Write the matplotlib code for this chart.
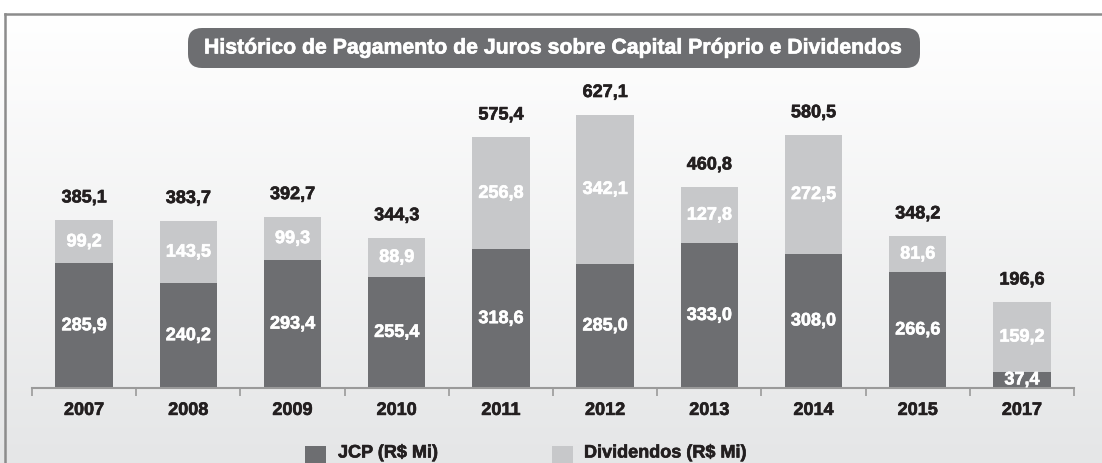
import numpy as np
import matplotlib.pyplot as plt
import matplotlib.patheffects as pe
from matplotlib.patches import Rectangle, FancyBboxPatch

# data
years = ['2007', '2008', '2009', '2010', '2011', '2012', '2013', '2014', '2015', '2017']
jcp = [285.9, 240.2, 293.4, 255.4, 318.6, 285.0, 333.0, 308.0, 266.6, 37.4]
dividendos = [99.2, 143.5, 99.3, 88.9, 256.8, 342.1, 127.8, 272.5, 81.6, 159.2]
totais = [385.1, 383.7, 392.7, 344.3, 575.4, 627.1, 460.8, 580.5, 348.2, 196.6]

titulo = 'Histórico de Pagamento de Juros sobre Capital Próprio e Dividendos'
leg_jcp = 'JCP (R$ Mi)'
leg_div = 'Dividendos (R$ Mi)'

DARK = '#6d6e71'
LIGHT = '#c7c8ca'
TXT = '#231f20'

plt.rcParams['font.family'] = ['Liberation Sans', 'DejaVu Sans']
plt.rcParams['font.weight'] = 'bold'

def heavy(c):
    # fake a heavier weight than the bold face
    return [pe.withStroke(linewidth=0.45, foreground=c)]

W, H = 1102, 463
fig = plt.figure(figsize=(W / 100, H / 100), dpi=100)

# background gradient + frame (pixel coords)
bg = fig.add_axes([0, 0, 1, 1], zorder=0)
grad = np.linspace(1.0, 0.0, 256).reshape(-1, 1)
top = np.array([1.0, 1.0, 1.0])
bot = np.array([0.898, 0.902, 0.906])
img = (bot + (top - bot) * grad[..., None]).reshape(256, 1, 3)
bg.imshow(img, aspect='auto', extent=[0, W, 0, H - 14], interpolation='bilinear')
bg.set_xlim(0, W)
bg.set_ylim(0, H)
bg.add_patch(Rectangle((0, H - 14), W, 14, color='white', lw=0))
bg.plot([5, 5], [0, H - 14], color='#8c8c8c', lw=1.8)
bg.plot([5, W], [H - 14, H - 14], color='#8c8c8c', lw=1.8)
bg.axis('off')

ax = fig.add_axes([32 / W, 75 / H, 1042 / W, 368 / H], zorder=1)
ax.patch.set_alpha(0)
x = np.arange(len(years))
bw = 0.55
ax.bar(x, jcp, bw, color=DARK, zorder=2)
ax.bar(x, dividendos, bw, bottom=jcp, color=LIGHT, zorder=2)

for i in range(len(years)):
    ax.text(x[i], jcp[i] / 2, f'{jcp[i]:.1f}'.replace('.', ','), ha='center', va='center',
            color='white', fontsize=13, fontweight='bold', zorder=3, path_effects=heavy('white'))
    ax.text(x[i], jcp[i] + dividendos[i] / 2, f'{dividendos[i]:.1f}'.replace('.', ','),
            ha='center', va='center', color='white', fontsize=13, fontweight='bold', zorder=3,
            path_effects=heavy('white'))
    ax.annotate(f'{totais[i]:.1f}'.replace('.', ','), (x[i], jcp[i] + dividendos[i]),
                xytext=(0, 10), textcoords='offset points', ha='center', va='bottom',
                color=TXT, fontsize=13, fontweight='bold', path_effects=heavy(TXT))

ax.set_xlim(-0.5, len(years) - 0.5)
ax.set_ylim(0, 845)
ax.set_xticks(np.arange(-0.5, len(years)), minor=False)
ax.set_xticklabels([])
ax.tick_params(axis='x', length=6, width=1.2, color='#9a9a9a')
ax.set_xticks(x, minor=True)
ax.set_xticklabels(years, minor=True)
ax.tick_params(axis='x', which='minor', length=0, pad=10, labelsize=13, labelcolor=TXT)
for lb in ax.get_xticklabels(minor=True):
    lb.set_path_effects(heavy(TXT))
ax.set_yticks([])
for s in ['top', 'left', 'right']:
    ax.spines[s].set_visible(False)
ax.spines['bottom'].set_color('#9a9a9a')
ax.spines['bottom'].set_linewidth(1.5)

# title box
bg.add_patch(FancyBboxPatch((188, H - 68), 732, 40, boxstyle='round,pad=0,rounding_size=14',
                            fc=DARK, ec='none'))
bg.text(554, H - 48, titulo, ha='center', va='center', color='white',
        fontsize=15.3, fontweight='bold', path_effects=heavy('white'))

# legend
bg.add_patch(Rectangle((305, 0), 21, 17, color=DARK, lw=0))
bg.text(338, 10, leg_jcp, ha='left', va='center', color=TXT, fontsize=13, fontweight='bold',
        path_effects=heavy(TXT))
bg.add_patch(Rectangle((552, 0), 21, 17, color=LIGHT, lw=0))
bg.text(584, 10, leg_div, ha='left', va='center', color=TXT, fontsize=13, fontweight='bold',
        path_effects=heavy(TXT))

fig.savefig('out.png', dpi=100)
